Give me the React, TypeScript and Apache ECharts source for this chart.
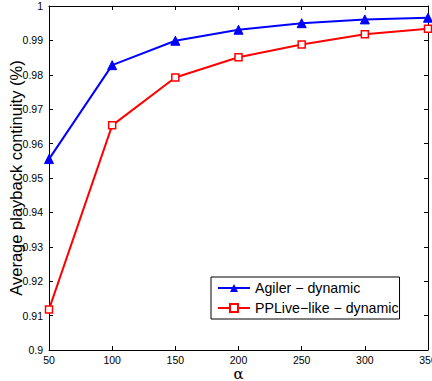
import React, { useEffect, useRef } from "react";
import * as echarts from "echarts";

const alphas = ["50", "100", "150", "200", "250", "300", "350"];
const agilerDynamic = [0.9555, 0.9828, 0.9899, 0.9931, 0.995, 0.9961, 0.9966];
const ppliveDynamic = [0.9118, 0.9653, 0.9792, 0.9851, 0.9888, 0.9918, 0.9934];
const seriesNames = ["Agiler \u2212 dynamic", "PPLive\u2212like \u2212 dynamic"];

export default function App() {
  const ref = useRef<HTMLDivElement>(null);
  useEffect(() => {
    const chart = echarts.init(ref.current!, null, { renderer: "svg" });
    const font = "Liberation Sans, Arial, sans-serif";
    const tickFont = "Liberation Sans Narrow, Liberation Sans, Arial, sans-serif";
    const axisLine = { show: true, lineStyle: { color: "#000", width: 1 } };
    const tick = { show: true, inside: true, length: 4, lineStyle: { color: "#000" } };
    chart.setOption({
      animation: false,
      backgroundColor: "#fff",
      grid: {
        left: 49,
        right: 4,
        top: 6,
        bottom: 31,
        containLabel: false,
        outerBoundsMode: "none",
      },
      xAxis: [
        {
          type: "value",
          min: 50,
          max: 350,
          interval: 50,
          position: "bottom",
          axisLine,
          axisTick: tick,
          axisLabel: { color: "#000", fontSize: 10.5, fontFamily: tickFont, margin: 4 },
          splitLine: { show: false },
          name: "\u03b1",
          nameLocation: "middle",
          nameGap: 16,
          nameMoveOverlap: false,
          nameTextStyle: { color: "#000", fontSize: 15, fontFamily: "DejaVu Serif, serif" },
        },
        {
          type: "value",
          min: 50,
          max: 350,
          interval: 50,
          position: "top",
          axisLine,
          axisTick: tick,
          axisLabel: { show: false },
          splitLine: { show: false },
        },
      ],
      yAxis: [
        {
          type: "value",
          min: 0.9,
          max: 1,
          interval: 0.01,
          position: "left",
          axisLine,
          axisTick: tick,
          axisLabel: {
            color: "#000",
            fontSize: 10.5,
            fontFamily: tickFont,
            margin: 6,
            formatter: (v: number) => String(parseFloat(v.toFixed(2))),
          },
          splitLine: { show: false },
          name: "Average playback continuity (%)",
          nameLocation: "middle",
          nameGap: 25,
          nameMoveOverlap: false,
          nameRotate: 90,
          nameTextStyle: { color: "#000", fontSize: 16.5, fontFamily: font },
        },
        {
          type: "value",
          min: 0.9,
          max: 1,
          interval: 0.01,
          position: "right",
          axisLine,
          axisTick: tick,
          axisLabel: { show: false },
          splitLine: { show: false },
        },
      ],
      legend: {
        orient: "vertical",
        left: 211,
        top: 277,
        backgroundColor: "#fff",
        borderColor: "#000",
        borderWidth: 1,
        borderRadius: 0,
        padding: [3, 1, 3, 6],
        itemGap: 4,
        itemWidth: 32,
        itemHeight: 10,
        textStyle: { color: "#000", fontSize: 14.2, lineHeight: 16, fontFamily: font },
        data: seriesNames,
      },
      series: [
        {
          name: seriesNames[0],
          type: "line",
          data: alphas.map((a, i) => [Number(a), agilerDynamic[i]]),
          color: "#0000ff",
          lineStyle: { color: "#0000ff", width: 2 },
          symbol: "triangle",
          symbolSize: 9,
          itemStyle: { color: "#0000ff", borderColor: "#0000ff" },
        },
        {
          name: seriesNames[1],
          type: "line",
          data: alphas.map((a, i) => [Number(a), ppliveDynamic[i]]),
          color: "#ff0000",
          lineStyle: { color: "#ff0000", width: 2 },
          symbol: "rect",
          symbolSize: 7,
          itemStyle: { color: "#fff", borderColor: "#ff0000", borderWidth: 1.5 },
        },
      ],
    });
    return () => chart.dispose();
  }, []);
  return (
    <div
      ref={ref}
      style={{ position: "absolute", left: 0, top: 0, width: 432, height: 381 }}
    />
  );
}
